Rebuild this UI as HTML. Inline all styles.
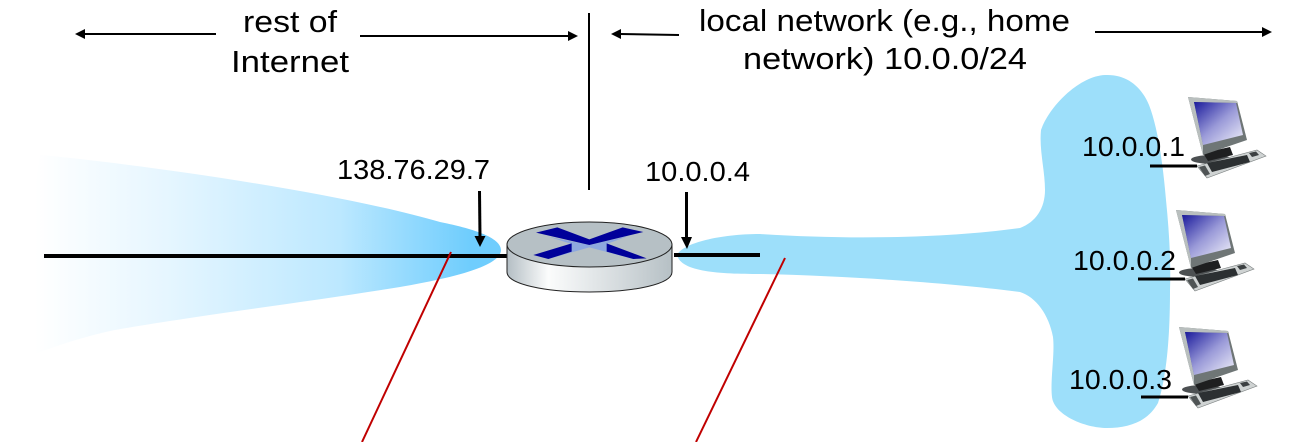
<!DOCTYPE html>
<html lang="en">
<head>
<meta charset="utf-8">
<title>NAT diagram</title>
<style>
html,body{margin:0;padding:0;background:#fff;width:1306px;height:442px;overflow:hidden}
svg{display:block}
text{font-family:"Liberation Sans",sans-serif;fill:#000}
</style>
</head>
<body>
<svg width="1306" height="442" viewBox="0 0 1306 442" xmlns="http://www.w3.org/2000/svg">
<defs>
<linearGradient id="wedge" x1="35" x2="470" y1="0" y2="0" gradientUnits="userSpaceOnUse">
<stop offset="0" stop-color="#fff"/>
<stop offset=".3" stop-color="#e6f6ff"/>
<stop offset=".7" stop-color="#bce8ff"/>
<stop offset="1" stop-color="#6fcdfd"/>
</linearGradient>
<linearGradient id="side" x1="0" x2="1" y1="0" y2="0">
<stop offset="0" stop-color="#b4bec4"/>
<stop offset=".25" stop-color="#fbfcfc"/>
<stop offset=".7" stop-color="#d3d9dc"/>
<stop offset="1" stop-color="#b6c0c5"/>
</linearGradient>
<linearGradient id="screen" x1="0" y1="0" x2="1" y2="1">
<stop offset="0" stop-color="#1a1a9c"/>
<stop offset=".5" stop-color="#9a9ad8"/>
<stop offset="1" stop-color="#f2f2fa"/>
</linearGradient>
<g id="pc">
<ellipse cx="1212" cy="159.500" rx="21" ry="4.500" fill="#4c5052"/>
<polygon points="1203,153 1230,147 1233,155 1208,161" fill="#1e1f20"/>
<polygon points="1188,97 1237,101 1247,140 1203,155" fill="#6f7676"/>
<polygon points="1188,97 1237,101 1237,103 1194,102 1203,145 1203,155" fill="#b9bfbe"/>
<polygon points="1194,102 1236,103 1243,135 1203,145" fill="url(#screen)"/>
<polygon points="1197,166 1257,150 1266,156 1207,178" fill="#cfd3d3" stroke="#7b8080" stroke-width=".6"/>
<polygon points="1207,163 1247,155 1250,162 1212,172" fill="#2c3032"/>
<polygon points="1249,153 1256,151.500 1259,155 1252,157" fill="#3c4042"/>
<polygon points="1199,167 1205,165.500 1210,174 1205,176" fill="#4f5455"/>
</g>
</defs>
<rect width="1306" height="442" fill="#fff"/>

<path d="M40 155 C120 162 330 190 440 222 C465 227 501 236 501 250 C501 268 440 280 400 287 C300 303 180 318 110 331 C70 340 40 352 15 362 L15 300 L40 155Z" fill="url(#wedge)"/>

<path d="M1105 75 C1128 74 1142 88 1149 105 C1158 128 1163 165 1166 200 C1169 230 1171 260 1170 290 C1170 335 1167 375 1158 403 C1148 421 1130 428 1107 428 C1085 428 1054 415 1052 397 C1050 380 1055 355 1053 337 C1049 315 1036 297 1020 292 C950 283 850 276 760 274 C720 274 681 272 677 255 C683 243 720 234 760 234 C850 240 950 238 1020 228 C1036 222 1045 208 1045 190 C1045 170 1039 150 1041 130 C1050 105 1080 76 1105 75Z" fill="#9ddffa"/>

<line x1="44" y1="256" x2="507" y2="256" stroke="#000" stroke-width="4"/>
<line x1="674" y1="255" x2="760" y2="255" stroke="#000" stroke-width="4"/>

<path d="M507 244 V272 C507 284 544 292 589.500 292 C635 292 672 284 672 272 V244Z" fill="url(#side)" stroke="#222" stroke-width="1"/>
<ellipse cx="589.500" cy="244.500" rx="82.500" ry="22.500" fill="#b6c0c5" stroke="#222" stroke-width="1"/>
<g transform="translate(480 190) scale(.33333)">
<polygon points="205,140 328,165 445,138 380,162 460,207 328,172 205,207 275,162" fill="#8ea8de"/>
<polygon points="168,128 232,112 328,148 428,112 490,126 328,165" fill="#00009a"/>
<polygon points="160,195 275,160 275,185 205,207" fill="#00009a"/>
<polygon points="380,160 500,205 460,207 380,185" fill="#00009a"/>
</g>

<use href="#pc"/>
<use href="#pc" transform="translate(-12 113)"/>
<use href="#pc" transform="translate(-9 230)"/>

<line x1="589" y1="13" x2="589" y2="190" stroke="#000" stroke-width="2"/>

<g stroke="#000" stroke-width="2" fill="none">
<line x1="84" y1="34" x2="216" y2="34"/>
<line x1="360" y1="36" x2="570" y2="36"/>
<line x1="620" y1="34" x2="679" y2="35"/>
<line x1="1095" y1="32" x2="1263" y2="32"/>
</g>
<polygon points="75,34 85,29 85,39"/>
<polygon points="578,36 568,31 568,41"/>
<polygon points="611,34 621,29 621,39"/>
<polygon points="1272,32 1262,27 1262,37"/>

<line x1="479.500" y1="191" x2="480" y2="238" stroke="#000" stroke-width="3"/>
<polygon points="480,247 474.500,236 485.500,236"/>
<line x1="686.500" y1="192" x2="686.500" y2="239" stroke="#000" stroke-width="3"/>
<polygon points="687,249 681,237 692,237"/>

<g stroke="#000" stroke-width="3">
<line x1="1150" y1="166" x2="1197" y2="166"/>
<line x1="1138" y1="279" x2="1185" y2="279"/>
<line x1="1141" y1="397" x2="1188" y2="397"/>
</g>

<line x1="451" y1="252" x2="362" y2="442" stroke="#c00000" stroke-width="2"/>
<line x1="785" y1="258" x2="696" y2="442" stroke="#c00000" stroke-width="2"/>

<g font-size="31">
<text x="243" y="32" textLength="94" lengthAdjust="spacingAndGlyphs">rest of</text>
<text x="231" y="72" textLength="118" lengthAdjust="spacingAndGlyphs">Internet</text>
<text x="699" y="31" textLength="371" lengthAdjust="spacingAndGlyphs">local network (e.g., home</text>
<text x="743" y="69" textLength="284" lengthAdjust="spacingAndGlyphs">network) 10.0.0/24</text>
</g>
<g font-size="28">
<text x="337" y="179" textLength="153" lengthAdjust="spacingAndGlyphs">138.76.29.7</text>
<text x="645" y="181" textLength="105" lengthAdjust="spacingAndGlyphs">10.0.0.4</text>
<text x="1082" y="156" textLength="103" lengthAdjust="spacingAndGlyphs">10.0.0.1</text>
<text x="1073" y="270" textLength="103" lengthAdjust="spacingAndGlyphs">10.0.0.2</text>
<text x="1069" y="389" textLength="103" lengthAdjust="spacingAndGlyphs">10.0.0.3</text>
</g>
</svg>
</body>
</html>
